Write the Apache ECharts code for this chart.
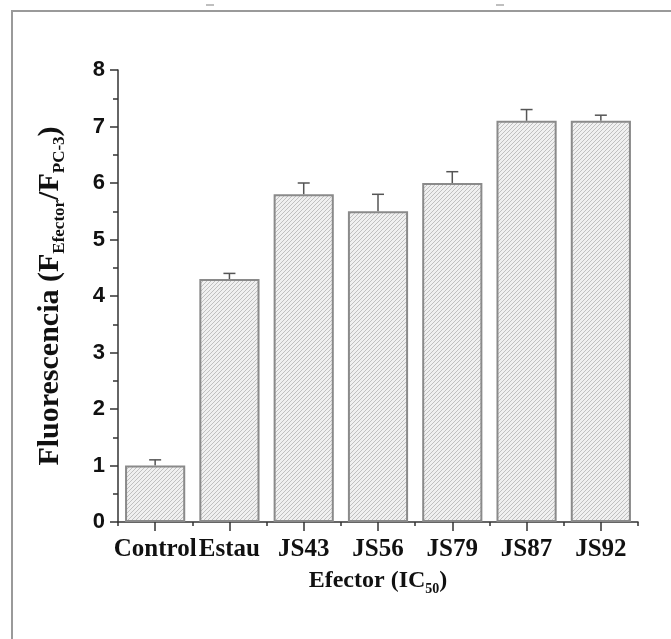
<!DOCTYPE html>
<html><head><meta charset="utf-8">
<script src="https://cdn.jsdelivr.net/npm/echarts@6/dist/echarts.min.js"></script>
<style>html,body{margin:0;padding:0;background:#fff}#c{width:671px;height:639px}</style>
</head><body><div id="c"></div>
<script>
var categories = ['Control','Estau','JS43','JS56','JS79','JS87','JS92'];
var values = [1.0, 4.3, 5.8, 5.5, 6.0, 7.1, 7.1];
var errors = [0.1, 0.1, 0.2, 0.3, 0.2, 0.2, 0.1];
var yTicks = [0,1,2,3,4,5,6,7,8];

function hatch(){
  var c = document.createElement('canvas'); c.width = 4; c.height = 4;
  var g = c.getContext('2d');
  g.fillStyle = '#f0f0f0'; g.fillRect(0,0,4,4);
  g.strokeStyle = '#c0c0c0'; g.lineWidth = 1;
  [[0,4,4,0],[-2,2,2,-2],[2,6,6,2]].forEach(function(l){g.beginPath();g.moveTo(l[0],l[1]);g.lineTo(l[2],l[3]);g.stroke();});
  return c;
}
var chart = echarts.init(document.getElementById('c'));
var serif = '"Liberation Serif","Times New Roman",serif';
var sans = '"Liberation Sans",Arial,sans-serif';
chart.setOption({
  animation:false,
  backgroundColor:'#fff',
  graphic:[
    {type:'rect',shape:{x:12,y:11,width:720,height:700},style:{fill:'none',stroke:'#9a9a9a',lineWidth:2},silent:true},
    {type:'line',shape:{x1:206,y1:5,x2:214,y2:5},style:{stroke:'#aaa',lineWidth:1.5}},
    {type:'line',shape:{x1:496,y1:5,x2:504,y2:5},style:{stroke:'#aaa',lineWidth:1.5}}
  ],
  grid:{left:118,right:33,top:70,bottom:117,containLabel:false},
  xAxis:[{
    type:'category',data:categories,boundaryGap:true,
    axisLine:{lineStyle:{color:'#333',width:1.5}},
    axisTick:{show:true,alignWithLabel:false,length:4,inside:false,lineStyle:{color:'#333',width:1.5}},
    axisLabel:{fontFamily:serif,fontWeight:'bold',fontSize:25,color:'#111',margin:15,interval:0},
    name:'{a|Efector (IC}{s|50}{a|)}',nameLocation:'middle',nameGap:44,
    nameTextStyle:{rich:{a:{fontFamily:serif,fontWeight:'bold',fontSize:24,color:'#111',lineHeight:30},s:{fontFamily:serif,fontWeight:'bold',fontSize:14,color:'#111',verticalAlign:'bottom',lineHeight:14}}}
  },{
    type:'category',data:categories,boundaryGap:true,position:'bottom',
    axisLine:{show:false},
    axisTick:{show:true,alignWithLabel:true,length:9,lineStyle:{color:'#333',width:1.5}},
    axisLabel:{show:false},splitLine:{show:false}
  }],
  yAxis:{
    type:'value',min:0,max:8,interval:1,
    axisLine:{show:true,lineStyle:{color:'#333',width:1.5}},
    axisTick:{show:true,length:8,lineStyle:{color:'#333',width:1.5}},
    minorTick:{show:true,splitNumber:2,length:5,lineStyle:{color:'#333',width:1.5}},
    splitLine:{show:false},
    axisLabel:{fontFamily:sans,fontWeight:'bold',fontSize:22,color:'#111',margin:13,
      formatter:function(v){return yTicks.indexOf(v)>=0?String(v):'';}},
    name:'{a|Fluorescencia (F}{s|Efector}{a|/F}{s|PC-3}{a|)}',nameLocation:'middle',nameRotate:90,nameGap:50,
    nameTextStyle:{rich:{a:{fontFamily:serif,fontWeight:'bold',fontSize:30,color:'#111',lineHeight:36},s:{fontFamily:serif,fontWeight:'bold',fontSize:17,color:'#111',verticalAlign:'bottom',lineHeight:16}}}
  },
  series:[{
    type:'bar',data:values,barWidth:'81%',
    itemStyle:{color:{image:hatch(),repeat:'repeat'},borderColor:'#8a8a8a',borderWidth:2}
  },{
    type:'custom',
    data:values.map(function(v,i){return [i,v,v+errors[i]];}),
    renderItem:function(params,api){
      var b=api.coord([api.value(0),api.value(1)]);
      var t=api.coord([api.value(0),api.value(2)]);
      return {type:'group',children:[
        {type:'line',shape:{x1:b[0],y1:b[1],x2:t[0],y2:t[1]},style:{stroke:'#555',lineWidth:1.5}},
        {type:'line',shape:{x1:t[0]-6,y1:t[1],x2:t[0]+6,y2:t[1]},style:{stroke:'#555',lineWidth:1.5}}
      ]};
    },
    z:1
  }]
});
</script></body></html>
